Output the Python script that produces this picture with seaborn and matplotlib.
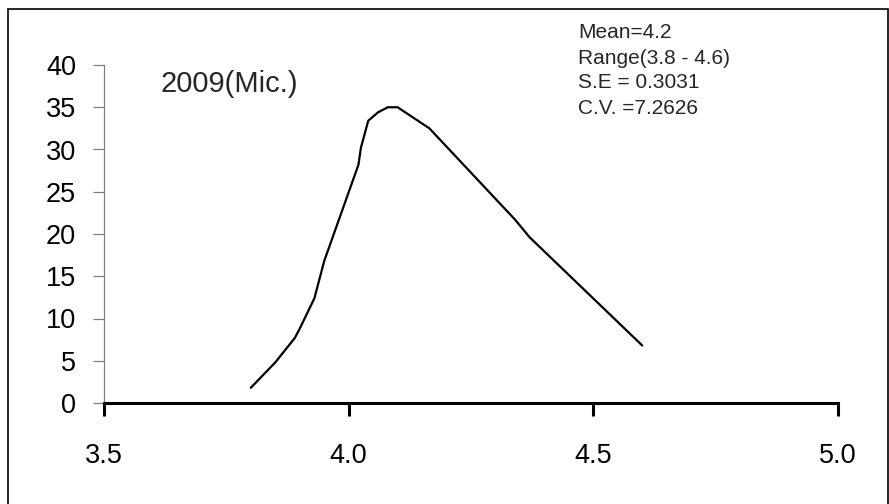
import matplotlib
matplotlib.use("Agg")
import matplotlib.pyplot as plt
import seaborn as sns
import pandas as pd
from matplotlib.patches import Rectangle

# Data
length = [3.80, 3.85, 3.89, 3.90, 3.93, 3.95, 4.02, 4.025, 4.04, 4.06, 4.08, 4.10, 4.165, 4.34, 4.37, 4.60]
freq = [1.8, 4.8, 7.7, 8.8, 12.4, 16.8, 28.2, 30.2, 33.4, 34.4, 35.0, 35.0, 32.5, 21.7, 19.6, 6.8]
xticks = [3.5, 4.0, 4.5, 5.0]
xtick_labels = ["3.5", "4.0", "4.5", "5.0"]
yticks = [0, 5, 10, 15, 20, 25, 30, 35, 40]
title_text = "2009(Mic.)"
stats_lines = ["Mean=4.2", "Range(3.8 - 4.6)", "S.E = 0.3031", "C.V. =7.2626"]

sns.set_theme(style="white")
plt.rcParams['font.family'] = ['Liberation Sans', 'DejaVu Sans']

df = pd.DataFrame({"x": length, "y": freq})

fig = plt.figure(figsize=(8.89, 5.04), dpi=100)
ax = fig.add_axes([104/889, 101/504, 734/889, 338/504])

sns.lineplot(data=df, x="x", y="y", ax=ax, color="black", linewidth=1.6,
             sort=False, estimator=None)

ax.set_xlim(3.5, 5.0)
ax.set_ylim(0, 40)
ax.set_xticks(xticks)
ax.set_xticklabels(xtick_labels)
ax.set_yticks(yticks)
ax.set_xlabel("")
ax.set_ylabel("")

for s in ["top", "right"]:
    ax.spines[s].set_visible(False)
ax.spines["left"].set_color("#808080")
ax.spines["left"].set_linewidth(0.9)
ax.spines["bottom"].set_color("black")
ax.spines["bottom"].set_linewidth(2.2)
ax.set_zorder(2)

ax.tick_params(axis="y", direction="out", length=8, width=0.9, color="#808080",
               labelsize=19.5, pad=12, left=True, labelcolor="black")
ax.tick_params(axis="x", direction="out", length=9, width=2.2, color="black",
               labelsize=19.5, pad=20, bottom=True, labelcolor="black")

fig.text(160/889, 1 - 84/504, title_text, fontsize=21, ha="left", va="center")
for i, line in enumerate(stats_lines):
    fig.text(578/889, 1 - (33 + 25*i)/504, line, fontsize=15, ha="left", va="center")

fig.patches.append(Rectangle((8/889, -6/504), 879.5/889, 501/504, transform=fig.transFigure,
                             fill=False, edgecolor="black", linewidth=1.2))

fig.savefig("out.png", dpi=100)
